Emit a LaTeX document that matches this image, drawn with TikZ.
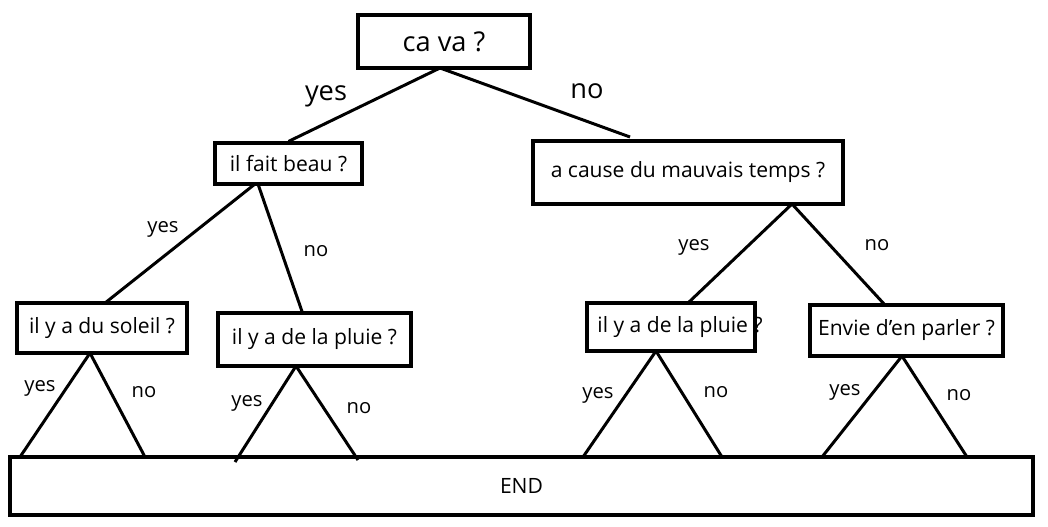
\documentclass[tikz,border=0pt]{standalone}
\usepackage{fontspec}
\setmainfont{Open Sans}
\begin{document}
\begin{tikzpicture}[x=0.02cm,y=-0.02cm,
  box/.style={draw,line width=1.8pt,inner sep=0pt,font=\fontsize{12}{14}\selectfont},
  lbl/.style={font=\fontsize{11.5}{13}\selectfont},
  big/.style={font=\fontsize{15.5}{17}\selectfont},
  ln/.style={line width=1.7pt}]
\useasboundingbox (0,0) rectangle (1048,527);
\node[box,big,minimum width=172*0.02cm,minimum height=53*0.02cm] (root) at (444,41.5) {ca va ?};
\node[box,minimum width=147*0.02cm,minimum height=41*0.02cm] (beau) at (288.5,163.5) {il fait beau ?};
\node[box,minimum width=310*0.02cm,minimum height=63*0.02cm] (cause) at (688,172.5) {a cause du mauvais temps ?};
\node[box,minimum width=170*0.02cm,minimum height=50*0.02cm] (sol) at (102,328) {il y a du soleil ?};
\node[box,minimum width=193*0.02cm,minimum height=53*0.02cm] (pl1) at (314.5,339.5) {il y a de la pluie ?};
\node[box,minimum width=168*0.02cm,minimum height=48*0.02cm] (pl2) at (671,327) {};
\node[box,draw=none] (pl2t) at (680,327) {il y a de la pluie ?};
\node[box,minimum width=193*0.02cm,minimum height=51*0.02cm] (env) at (906.5,330.5) {Envie d\char"27 en parler ?};
\node[box,minimum width=1023*0.02cm,minimum height=58*0.02cm] (end) at (521.5,486) {END};
% connectors
\coordinate (r) at (440,68);
\coordinate (rn) at (630,137);
\draw[ln] (r) -- (beau.north);
\draw[ln] (r) -- (rn);
\coordinate (b1) at (255,184);
\draw[ln] (b1) -- (105,303) coordinate (s1);
\draw[ln] (258,184) coordinate (b2) -- (pl1.north -| 302,0);
\coordinate (c) at (792,204);
\draw[ln] (c) -- (688,303) coordinate (c1);
\draw[ln] (c) -- (885,305) coordinate (c2);
\draw[ln] (90,353) -- (20,457) (90,353) -- (145,457);
\draw[ln] (296,366) -- (235,462) (296,366) -- (358,460);
\draw[ln] (656,351) -- (583,457) (656,351) -- (722,457);
\draw[ln] (902,356) -- (822,457) (902,356) -- (967,457);
% labels
\node[big] (ly) at (326,96) {yes};
\node[big] (ln0) at (587,91) {no};
\node[lbl] at (163,229) {yes};
\node[lbl] at (316,251) {no};
\node[lbl] at (694,247) {yes};
\node[lbl] at (877,245) {no};
\node[lbl] at (40,388) {yes};
\node[lbl] at (144,392) {no};
\node[lbl] at (247,403) {yes};
\node[lbl] at (359,408) {no};
\node[lbl] at (598,395) {yes};
\node[lbl] at (716,392) {no};
\node[lbl] at (845,392) {yes};
\node[lbl] at (959,395) {no};
\end{tikzpicture}
\end{document}
